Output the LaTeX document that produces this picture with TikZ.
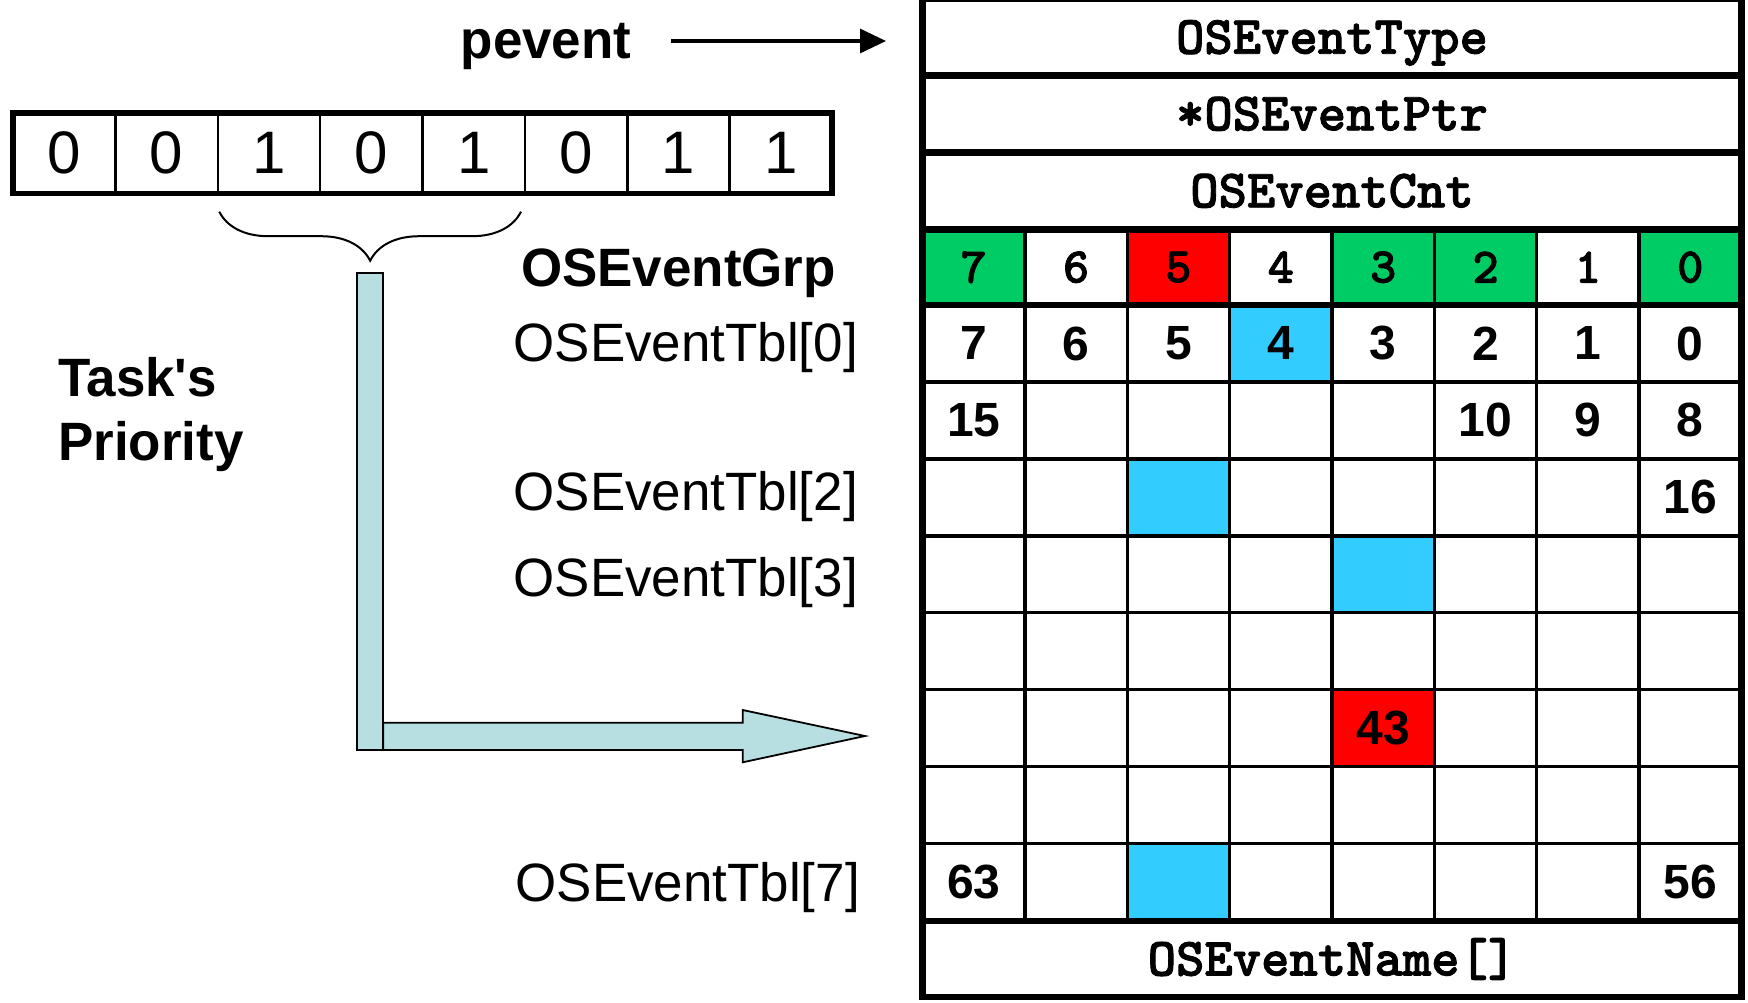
\documentclass[tikz,border=0pt]{standalone}
\usepackage{fontspec}
\usetikzlibrary{arrows.meta,decorations.pathreplacing}
\setmainfont{Liberation Sans}
\newfontfamily\labelfont{Liberation Sans}[FakeStretch=0.98]
\newfontfamily\codefont{lmmonolt10-bold.otf}[FakeBold=1.6]
\definecolor{grpgreen}{RGB}{0,204,102}
\definecolor{hitred}{RGB}{255,0,0}
\definecolor{hitblue}{RGB}{51,204,255}
\definecolor{pathteal}{RGB}{183,223,226}
\tikzset{
  plainlbl/.style={font=\labelfont\fontsize{54}{64}\selectfont, inner sep=0pt},
  boldlbl/.style={font=\labelfont\bfseries\fontsize{54}{64}\selectfont, inner sep=0pt},
  bitdigit/.style={font=\fontsize{60}{60}\selectfont, inner sep=0pt},
  fieldtxt/.style={font=\codefont\fontsize{54}{54}\selectfont, inner sep=0pt,
                   text height=33pt, text depth=0pt},
  grpcell/.style={font=\codefont\fontsize{50}{50}\selectfont, inner sep=0pt,
                  minimum width=102.375pt, minimum height=75.7pt},
  tblcell/.style={font=\bfseries\fontsize{48}{48}\selectfont, inner sep=0pt,
                  minimum width=102.375pt, minimum height=76.95pt},
  thickrule/.style={line width=6.5pt},
  thinrule/.style={line width=3.3pt},
  tealfill/.style={fill=pathteal, draw=black, line width=1.8pt, line join=miter},
}
\begin{document}
\begin{tikzpicture}[x=1pt,y=-1pt]
\useasboundingbox (0,0) rectangle (1748,1002);
\fill[white] (0,0) rectangle (1748,1002);

\def\colL{922.5}
\def\colW{102.375}

% ---- event control block: header fields ----
\node[fieldtxt] (type) at (1332,37.2)  {OSEventType};
\node[fieldtxt] (ptr)  at (1332,113.8) {*OSEventPtr};
\node[fieldtxt] (cnt)  at (1332,190.8) {OSEventCnt};
\node[fieldtxt] (name) at (1332,959)   {OSEventName[]};

% ---- OSEventGrp row ----
\foreach \i/\d/\c in {0/7/grpgreen,1/6/white,2/5/hitred,3/4/white,
                      4/3/grpgreen,5/2/grpgreen,6/1/white,7/0/grpgreen}
  \node[grpcell, fill=\c] (grp-\i) at ({\colL+(\i+0.5)*\colW},267.2) {\d};

% ---- OSEventTbl cells ----
\foreach \r/\i/\c/\t in {0/0/white/7, 0/1/white/6, 0/2/white/5, 0/3/hitblue/4,
                         0/4/white/3, 0/5/white/2, 0/6/white/1, 0/7/white/0,
                         1/0/white/15, 1/5/white/10, 1/6/white/9, 1/7/white/8,
                         2/2/hitblue/{}, 2/7/white/16, 3/4/hitblue/{},
                         5/4/hitred/43, 7/0/white/63, 7/2/hitblue/{}, 7/7/white/56}
  \node[tblcell, fill=\c] (tbl-\r-\i) at ({\colL+(\i+0.5)*\colW},{305+76.95*(\r+0.5)}) {\t};

% ---- grid and frame ----
\foreach \k in {1,...,7}
  \draw[thinrule] ({\colL+\k*\colW},229.3) -- ({\colL+\k*\colW},921);
\foreach \r in {1,...,7}
  \draw[thinrule] (\colL,{305+76.95*\r}) -- (1741.5,{305+76.95*\r});
\foreach \y in {75.3,152.3,229.3,305,921}
  \draw[thickrule] (\colL,\y) -- (1741.5,\y);
\draw[thickrule] (\colL,-1) rectangle (1741.5,997);

% ---- row labels ----
\node[boldlbl, anchor=base east] (grplbl) at (836,286) {OSEventGrp};
\node[plainlbl, anchor=base east] (tbl0) at (858,361.7) {OSEventTbl[0]};
\node[plainlbl, anchor=base east] (tbl2) at (858,510)   {OSEventTbl[2]};
\node[plainlbl, anchor=base east] (tbl3) at (858,596.7) {OSEventTbl[3]};
\node[plainlbl, anchor=base east] (tbl7) at (860,901)   {OSEventTbl[7]};

% ---- pevent pointer ----
\node[boldlbl, anchor=base] (pevent) at (546,58) {pevent};
\coordinate (ptrtip) at (886,41);
\path (pevent.east |- ptrtip) ++(40,0) coordinate (ptrtail);
\draw[line width=3.3pt, -{Triangle[length=26pt,width=24pt]}] (ptrtail) -- (ptrtip);

% ---- task priority register ----
\foreach \i/\b in {0/0,1/0,2/1,3/0,4/1,5/0,6/1,7/1}
  \node[bitdigit] (bit-\i) at ({13+(\i+0.5)*102.375},153.3) {\b};
\foreach \k in {1,...,7}
  \draw[line width=2.5pt] ({13+\k*102.375},113) -- ({13+\k*102.375},193.5);
\draw[line width=5.5pt] (13,113) rectangle (832,193.5);

\node[boldlbl, anchor=base west] (task) at (58,396) {Task's};
\node[boldlbl, anchor=base west] (prio) at (58,460) {Priority};

% ---- brace over bits 5..3 ----
\coordinate (bracel) at (219.3,211.7);
\coordinate (bracer) at (521,211.7);
\draw[line width=2pt, decorate, decoration={brace, amplitude=49pt, mirror}]
  (bracel) -- (bracer);

% ---- index path into the table ----
\draw[tealfill] (357.3,272.7) rectangle (383.3,750);
\draw[tealfill] (383.3,722.7) -- (742.7,722.7) -- (742.7,710) -- (865,736)
  -- (742.7,762.3) -- (742.7,750) -- (383.3,750) -- cycle;
\end{tikzpicture}
\end{document}
